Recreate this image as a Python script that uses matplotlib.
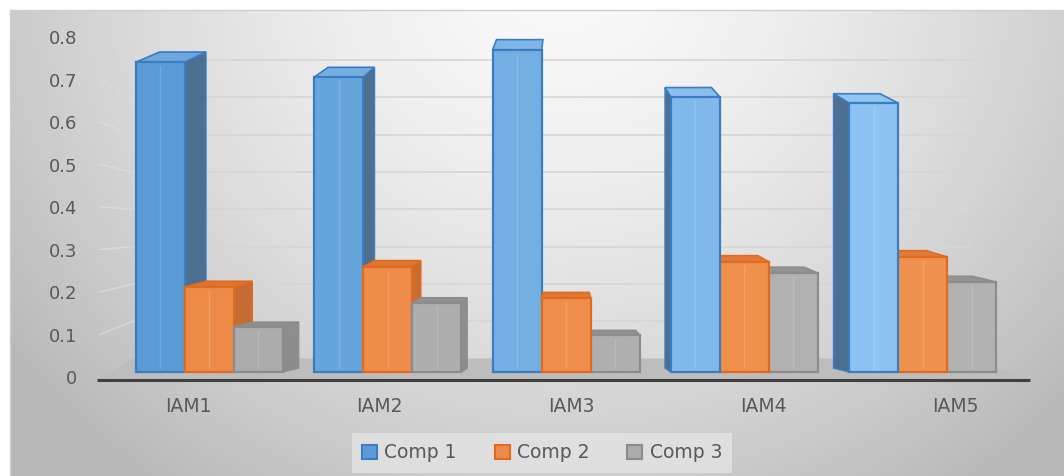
import numpy as np
import matplotlib
matplotlib.use("Agg")
import matplotlib.pyplot as plt
from matplotlib.patches import Polygon, Patch
from matplotlib.colors import to_rgb

# values per group, one list per component
groups = ["IAM1", "IAM2", "IAM3", "IAM4", "IAM5"]
comp1 = [0.765, 0.728, 0.795, 0.679, 0.664]
comp2 = [0.210, 0.260, 0.183, 0.272, 0.284]
comp3 = [0.111, 0.170, 0.091, 0.244, 0.222]
series_names = ["Comp 1", "Comp 2", "Comp 3"]
y_ticks = [0, 0.1, 0.2, 0.3, 0.4, 0.5, 0.6, 0.7, 0.8]

W, H = 1064, 476
fig = plt.figure(figsize=(W / 100, H / 100), dpi=100)
fig.patch.set_facecolor("white")

# soft grey backdrop, brighter towards the top middle
bg = fig.add_axes([10 / W, 0, (W - 10) / W, (H - 10) / H])
yy, xx = np.mgrid[0:H - 10, 0:W - 10]
d = np.sqrt(((xx - 550) / 560.0) ** 2 + ((yy + 40) / 520.0) ** 2)
shade = np.clip(250 - 48 * d ** 1.5, 185, 250) / 255.0
bg.imshow(np.dstack([shade] * 3), aspect="auto", interpolation="bilinear")
bg.set_axis_off()
fig.add_artist(plt.Line2D([10 / W, 1], [(H - 10) / H] * 2, color="#CFCFCF", lw=1))
fig.add_artist(plt.Line2D([10 / W] * 2, [0, (H - 10) / H], color="#CFCFCF", lw=1))

ax = fig.add_axes([92.1 / W, (H - 382.1) / H, 958.75 / W, 345.1 / H])
ax.set_xlim(-0.5, 4.5)
ax.set_ylim(-0.012, 0.8)
ax.patch.set_visible(False)
for s in ax.spines.values():
    s.set_visible(False)

txt = "#595959"
ax.set_yticks(y_ticks)
ax.set_yticklabels(["0" if t == 0 else f"{t:.1f}" for t in y_ticks])
ax.set_xticks(range(len(groups)))
ax.set_xticklabels(groups)
ax.tick_params(axis="y", length=0, pad=10.5, labelsize=13, labelcolor=txt)
ax.tick_params(axis="x", length=0, pad=11, labelsize=13.5, labelcolor=txt)

# depth helpers: back wall / floor in front-plane units
px = 191.75  # pixels per category
def x_of(p):
    return (p - 188) / px

def back_v(v):
    return 0.0435 + 0.878 * v

xl_front, xr_front = x_of(97), x_of(1030)
xl_back, xr_back = x_of(133), x_of(972)

# walls and gridlines
for t in y_ticks[1:]:
    ax.plot([x_of(100), xl_back], [t, back_v(t)], color="#DADADA", lw=1, zorder=1)
    ax.plot([xl_back, xr_back], [back_v(t)] * 2, color="#D6D6D6", lw=1.2, zorder=1)

# floor
floor_y = -0.007
ax.add_patch(Polygon([(xl_front, floor_y), (xr_front, floor_y), (xr_back, back_v(0)),
                      (xl_back, back_v(0))], closed=True, fc="#BDBDBD", ec="none",
                     zorder=2, clip_on=False))
ax.plot([xl_front, xr_front], [floor_y] * 2, color="#404040", lw=2.2, zorder=3,
        clip_on=False, solid_capstyle="butt")

# bars, drawn as a slab with front, side and top faces
xc = x_of(566)
k, kv, v0 = 0.93, 0.953, 0.0118
bw = 0.275
shift = -0.026
side_f = 0.055


def mix(c1, c2, t):
    a, b = np.array(to_rgb(c1)), np.array(to_rgb(c2))
    return tuple(a + (b - a) * t)


styles = [
    dict(front=("#5B9BD5", "#8CC3F3"), side="#45698E", top=("#6CA6DC", "#92C6F2"), edge="#3B7CC2"),
    dict(front=("#EE8A48", "#F0924F"), side="#C4672A", top=("#DC7434", "#E07B3A"), edge="#E26A1E"),
    dict(front=("#ACACAC", "#B2B2B2"), side="#8A8A8A", top=("#8E8E8E", "#949494"), edge="#8C8C8C"),
]

for j, vals in enumerate([comp1, comp2, comp3]):
    st = styles[j]
    for i, v in enumerate(vals):
        t = i / (len(groups) - 1)
        cx = xc + k * (i + (j - 1) * bw - xc) + shift
        w = k * bw
        z = 10 - abs(cx - xc)
        fcol = mix(*st["front"], t)
        tcol = mix(*st["top"], t)
        x_l, x_r = cx - w / 2, cx + w / 2
        top = v0 + kv * v
        h_top = (4 + 8 * v) / 425.0
        h_bot = 4 / 425.0
        s_l, s_r = side_f * (xc - x_l), side_f * (xc - x_r)
        # side face on the side facing away from the centre
        if s_r > 0.01:
            poly = [(x_r, v0), (x_r, top), (x_r + s_r, top + h_top), (x_r + s_r, v0 + h_bot)]
        elif s_l < -0.01:
            poly = [(x_l, v0), (x_l, top), (x_l + s_l, top + h_top), (x_l + s_l, v0 + h_bot)]
        else:
            poly = None
        if poly:
            ax.add_patch(Polygon(poly, closed=True, fc=st["side"], ec=st["edge"], lw=1.2,
                                 zorder=z, alpha=0.95))
        ax.add_patch(Polygon([(x_l, top), (x_r, top), (x_r + s_r, top + h_top),
                              (x_l + s_l, top + h_top)], closed=True, fc=tcol,
                             ec=st["edge"], lw=1.2, zorder=z + 0.01))
        ax.bar(cx, kv * v, width=w, bottom=v0, color=fcol, edgecolor=st["edge"],
               linewidth=1.6, zorder=z + 0.02)
        # inner bevel line on the front face
        ax.plot([x_l + w * 0.5] * 2, [v0 + 0.01, top - 0.01], color=mix(fcol, "white", 0.25),
                lw=1, alpha=0.6, zorder=z + 0.03)

handles = [Patch(fc=styles[j]["front"][0], ec=styles[j]["edge"], lw=1.5, label=series_names[j])
           for j in range(3)]
leg = fig.legend(handles=handles, loc="center", bbox_to_anchor=(542 / W, 23 / H), ncol=3,
                 frameon=True, fontsize=13.5, handlelength=0.8, handleheight=0.8,
                 handletextpad=0.4, columnspacing=2.0, borderpad=0.55)
leg.get_frame().set_facecolor("#E4E4E4")
leg.get_frame().set_edgecolor("none")
leg.get_frame().set_boxstyle("square", pad=0)
for tx in leg.get_texts():
    tx.set_color(txt)

fig.savefig("out.png", dpi=100)
